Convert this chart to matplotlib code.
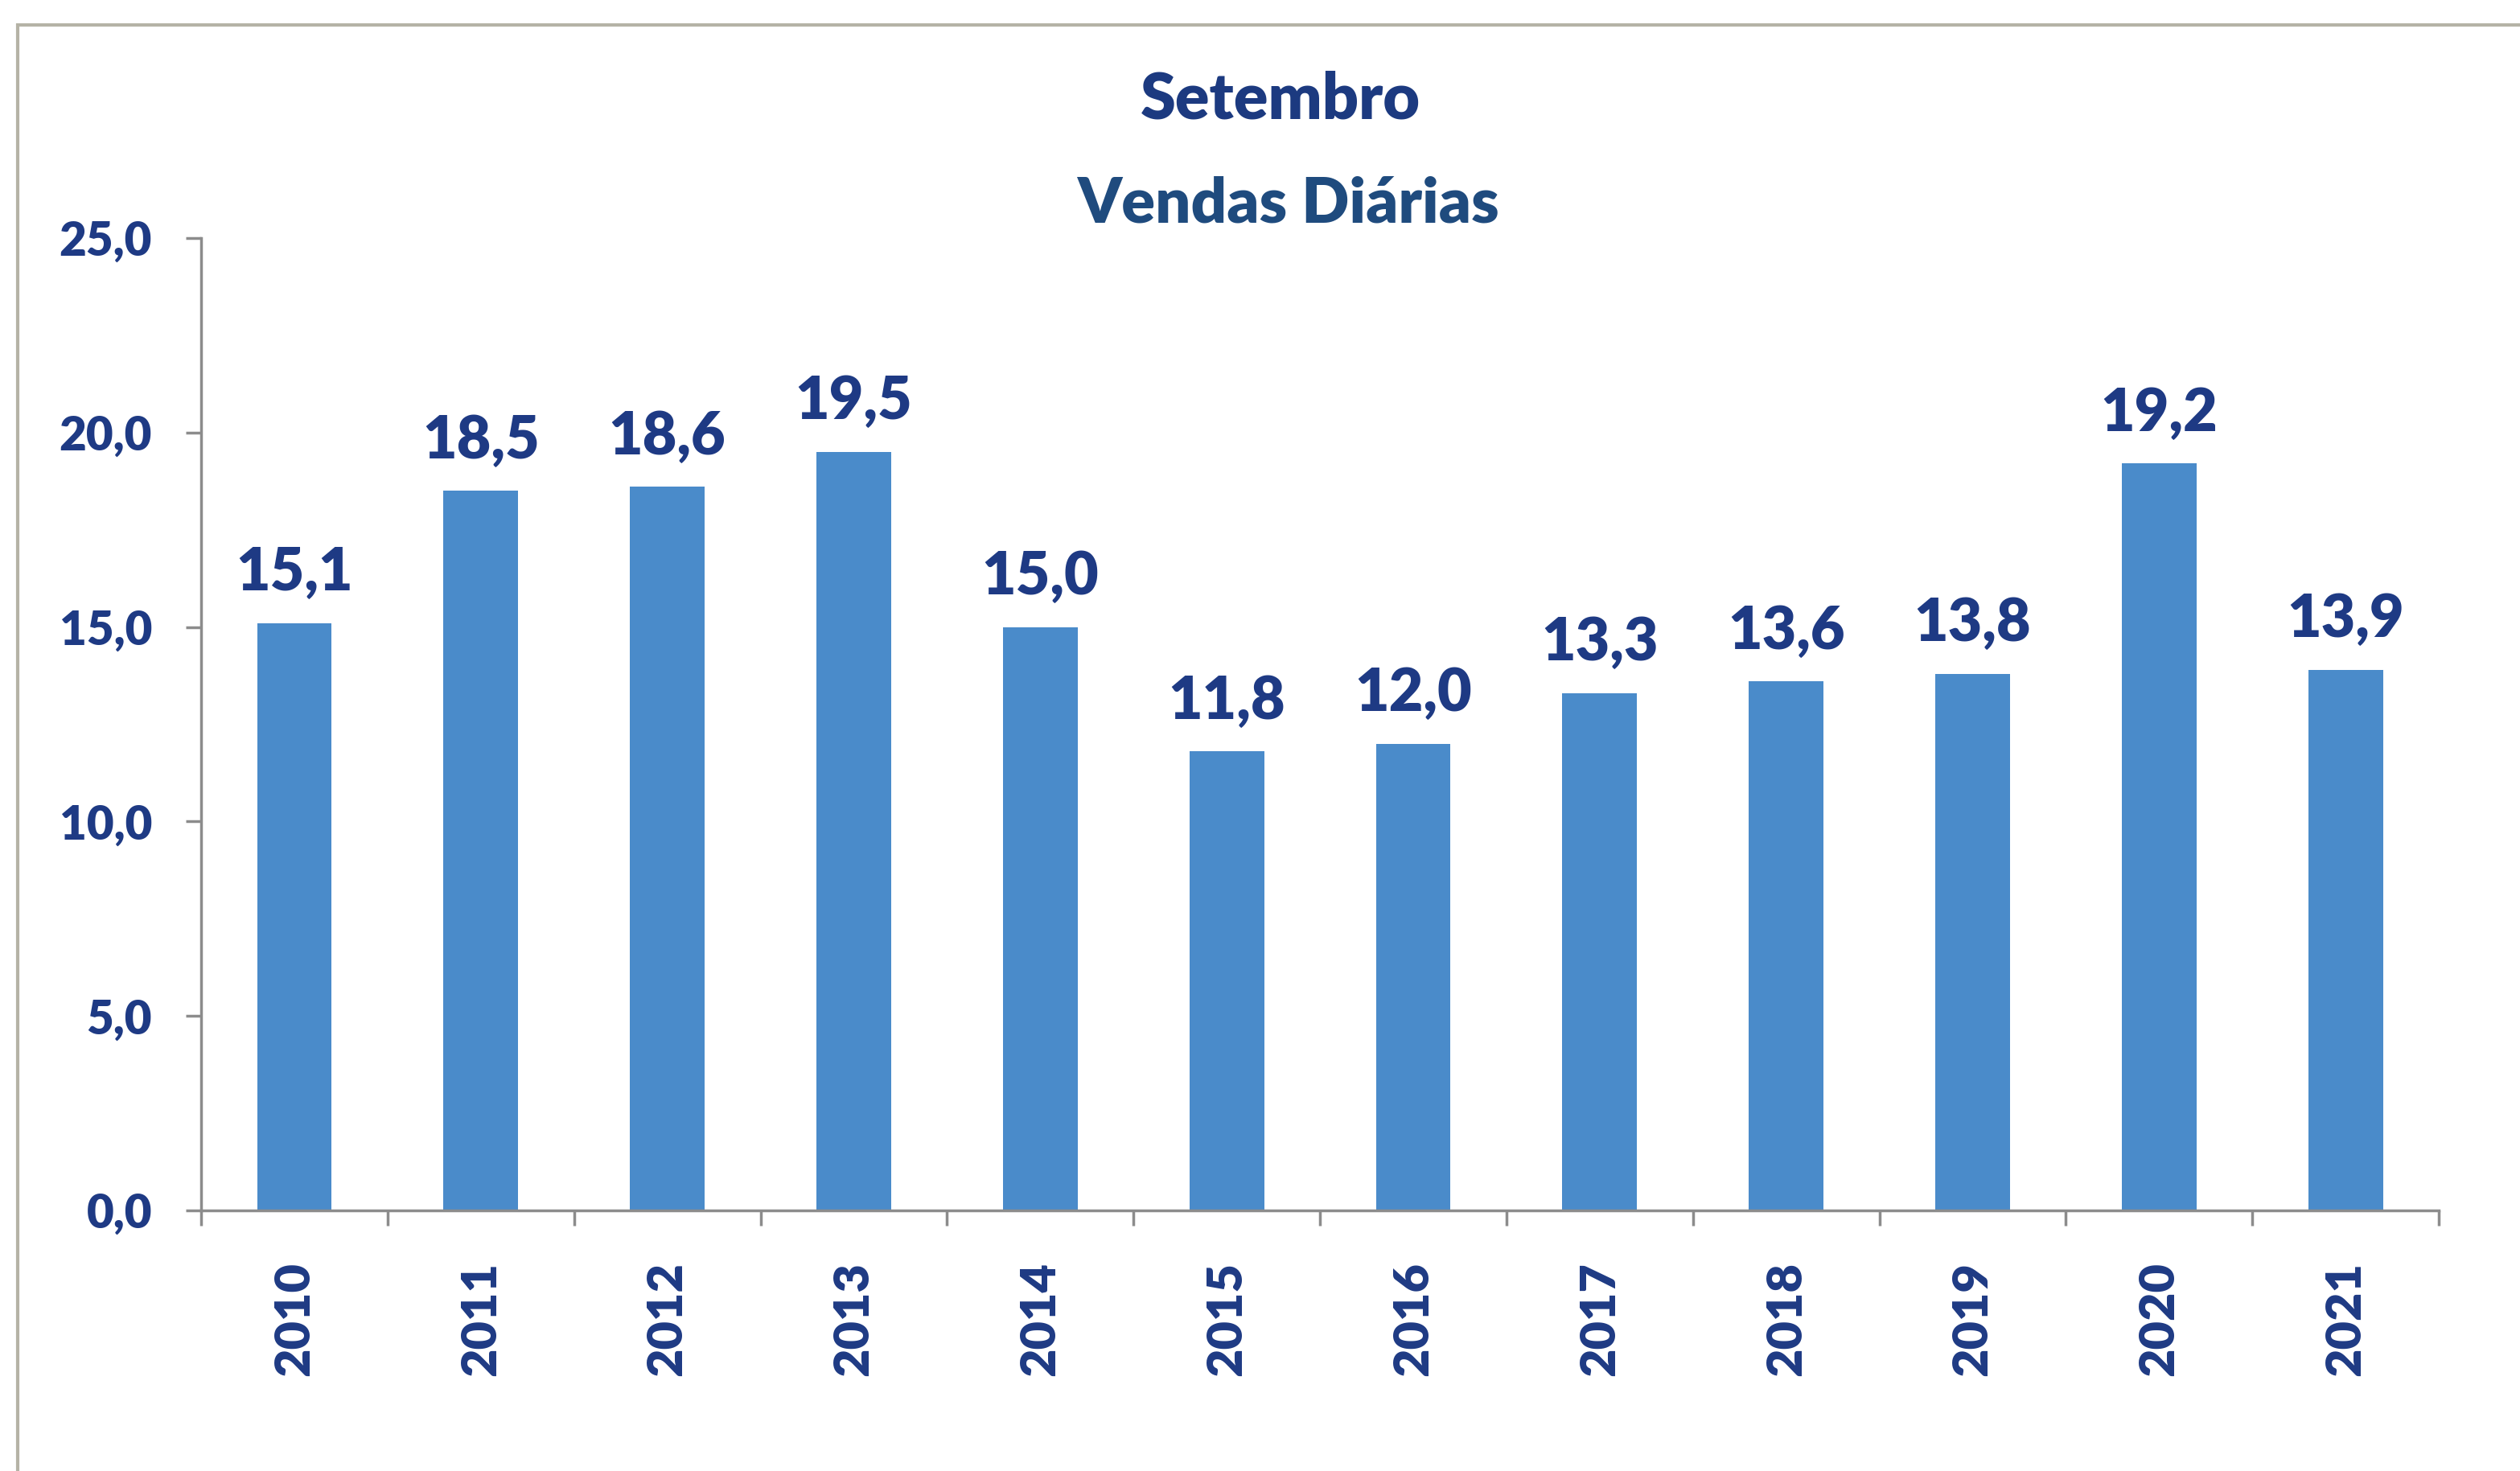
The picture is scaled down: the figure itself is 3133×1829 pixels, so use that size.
import numpy as np
import matplotlib
matplotlib.use('Agg')
import matplotlib.pyplot as plt
from matplotlib.patches import Rectangle
from matplotlib.ticker import FixedLocator

# dados
anos = ['2010', '2011', '2012', '2013', '2014', '2015', '2016', '2017', '2018', '2019', '2020', '2021']
vendas = [15.1, 18.5, 18.6, 19.5, 15.0, 11.8, 12.0, 13.3, 13.6, 13.8, 19.2, 13.9]
y_ticks = [0, 5, 10, 15, 20, 25]

plt.rcParams['font.family'] = ['Lato', 'DejaVu Sans']
azul_barra = '#4A8BCA'
azul_texto = '#1E3A84'
cinza = '#8C8C8C'
peso = 'heavy'

fig = plt.figure(figsize=(31.33, 18.29), dpi=100)
ax = fig.add_axes([0.0798, 0.1771, 0.888, 0.6611])

x = np.arange(len(anos))
bars = ax.bar(x, vendas, width=0.40, color=azul_barra, zorder=2)

# rotulos de valor
for b, v in zip(bars, vendas):
    ax.annotate(f'{v:.1f}'.replace('.', ','), (b.get_x() + b.get_width() / 2, v),
                xytext=(0, 20), textcoords='offset points', ha='center', va='bottom',
                fontsize=53, fontweight=peso, color=azul_texto)

ax.set_xlim(-0.5, len(anos) - 0.5)
ax.set_ylim(0, 25)
ax.set_yticks(y_ticks)
ax.set_yticklabels([f'{t:.1f}'.replace('.', ',') for t in y_ticks])
ax.set_xticks(x)
ax.set_xticklabels(anos, rotation=90)
ax.xaxis.set_minor_locator(FixedLocator(np.arange(-0.5, len(anos), 1.0)))

ax.tick_params(axis='x', which='major', length=0, pad=46, labelsize=44, labelcolor=azul_texto)
ax.tick_params(axis='x', which='minor', length=14, width=2.5, color=cinza, direction='out')
ax.tick_params(axis='y', length=14, width=2.5, color=cinza, pad=30, labelsize=42, labelcolor=azul_texto)
for lbl in ax.get_xticklabels() + ax.get_yticklabels():
    lbl.set_fontweight(peso)

for s in ['top', 'right']:
    ax.spines[s].set_visible(False)
for s in ['left', 'bottom']:
    ax.spines[s].set_color(cinza)
    ax.spines[s].set_linewidth(2.5)

# titulos
fig.text(0.508, 0.932, 'Setembro', ha='center', va='center', fontsize=57,
         fontweight=peso, color='#1C3A80')
fig.text(0.511, 0.861, 'Vendas Diárias', ha='center', va='center', fontsize=56,
         fontweight=peso, color='#1F4B7E')

# moldura
fig.patches.append(Rectangle((0.007, -0.05), 1.1, 1.033, transform=fig.transFigure,
                             fill=False, edgecolor='#B5B3A6', linewidth=3))

fig.savefig('out.png', dpi=100)
